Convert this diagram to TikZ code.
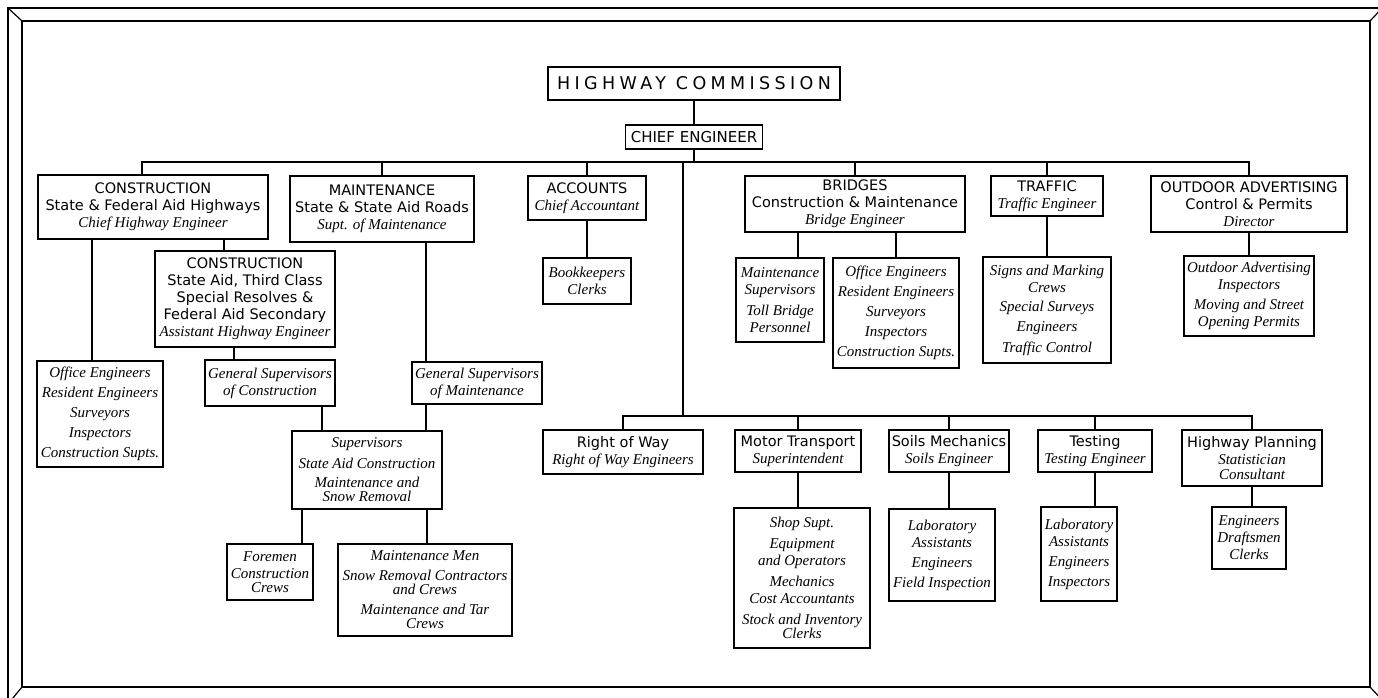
\documentclass[tikz,border=0pt]{standalone}
\usepackage{fontspec}
\setsansfont{DejaVu Sans}
\newfontfamily\wideface[LetterSpace=25]{DejaVu Sans}
\newfontfamily\itface{Liberation Serif}
\newcommand{\hd}[1]{{\sffamily\upshape\fontsize{14.5}{17}\selectfont #1}}

\begin{document}
\begin{tikzpicture}[x=1pt, y=-1pt,
  box/.style = {draw, line width=1.8pt, inner sep=1pt, align=center, font=\itface\fontsize{15}{17}\selectfont\itshape},
  head/.style = {box, font=\sffamily\fontsize{15}{17}\selectfont},
  link/.style = {line width=1.8pt, line cap=rect}]
  \useasboundingbox (0,0) rectangle (1378,698);
  % frame
  \draw[line width=2.4pt] (8,8) rectangle (1386,704);
  \draw[line width=1.2pt] (22,21) rectangle (1370,687);
  \draw[line width=1.2pt] (8,8) -- (22,21) (1386,4) -- (1370,21) (8,704) -- (22,687) (1386,704) -- (1370,687);

  % top
  \node[head, minimum width=292pt, minimum height=33pt, font=\wideface\fontsize{17.5}{20}\selectfont] (hc) at (694,83.5) {HIGHWAY COMMISSION};
  \node[head, minimum width=137pt, minimum height=24pt] (ce) at (694,137) {CHIEF ENGINEER};

  % first row
  \node[box, minimum width=230pt, minimum height=64pt] (con) at (153,207) {\hd{CONSTRUCTION}\\ \hd{State \& Federal Aid Highways}\\ Chief Highway Engineer};
  \node[box, minimum width=184pt, minimum height=66pt] (mnt) at (382,209) {\hd{MAINTENANCE}\\ \hd{State \& State Aid Roads}\\ Supt. of Maintenance};
  \node[box, minimum width=118pt, minimum height=44pt] (acc) at (587,198) {\hd{ACCOUNTS}\\ Chief Accountant};
  \node[box, minimum width=220pt, minimum height=56pt] (brg) at (855,204) {\hd{BRIDGES}\\ \hd{Construction \& Maintenance}\\ Bridge Engineer};
  \node[box, minimum width=112pt, minimum height=40pt] (trf) at (1047,196) {\hd{TRAFFIC}\\ Traffic Engineer};
  \node[box, minimum width=196pt, minimum height=56pt] (oad) at (1249,204) {\hd{OUTDOOR ADVERTISING}\\ \hd{Control \& Permits}\\ Director};

  % construction and maintenance branches
  \node[box, minimum width=180pt, minimum height=96pt] (con2) at (245,299) {\hd{CONSTRUCTION}\\ \hd{State Aid, Third Class}\\ \hd{Special Resolves \&}\\ \hd{Federal Aid Secondary}\\ Assistant Highway Engineer};
  \node[box, minimum width=126pt, minimum height=106pt] (offl) at (100,414) {Office Engineers\\[3pt] Resident Engineers\\[3pt] Surveyors\\[3pt] Inspectors\\[3pt] Construction Supts.};
  \node[box, minimum width=130pt, minimum height=46pt] (gsc) at (270,383) {General Supervisors\\ of Construction};
  \node[box, minimum width=130pt, minimum height=42pt] (gsm) at (477,383) {General Supervisors\\ of Maintenance};
  \node[box, minimum width=150pt, minimum height=78pt] (sup) at (367,470) {Supervisors\\[4pt] State Aid Construction\\[2pt] Maintenance and\\[-3pt] Snow Removal};
  \node[box, minimum width=86pt, minimum height=56pt] (frm) at (270,572) {Foremen\\ Construction\\[-3pt] Crews};
  \node[box, minimum width=174pt, minimum height=92pt] (mmen) at (425,590) {Maintenance Men\\[3pt] Snow Removal Contractors\\[-3pt] and Crews\\[3pt] Maintenance and Tar\\[-3pt] Crews};

  % accounts, bridges, traffic, advertising
  \node[box, minimum width=88pt, minimum height=46pt] (bkp) at (587,281) {Bookkeepers\\ Clerks};
  \node[box, minimum width=88pt, minimum height=84pt] (bms) at (780,300) {Maintenance\\ Supervisors\\[4pt] Toll Bridge\\ Personnel};
  \node[box, minimum width=126pt, minimum height=110pt] (bof) at (896,313) {Office Engineers\\[3pt] Resident Engineers\\[3pt] Surveyors\\[3pt] Inspectors\\[3pt] Construction Supts.};
  \node[box, minimum width=128pt, minimum height=106pt] (tch) at (1047,310) {Signs and Marking\\ Crews\\[2pt] Special Surveys\\[3pt] Engineers\\[4pt] Traffic Control};
  \node[box, minimum width=130pt, minimum height=80pt] (och) at (1249,296) {Outdoor Advertising\\ Inspectors\\[3pt] Moving and Street\\ Opening Permits};

  % second row
  \node[box, minimum width=160pt, minimum height=44pt] (row) at (623,452) {\hd{Right of Way}\\ Right of Way Engineers};
  \node[box, minimum width=126pt, minimum height=42pt] (mtr) at (798,451) {\hd{Motor Transport}\\ Superintendent};
  \node[box, minimum width=120pt, minimum height=42pt] (soil) at (949,451) {\hd{Soils Mechanics}\\ Soils Engineer};
  \node[box, minimum width=114pt, minimum height=42pt] (tst) at (1095,451) {\hd{Testing}\\ Testing Engineer};
  \node[box, minimum width=140pt, minimum height=56pt] (hwp) at (1252,458) {\hd{Highway Planning}\\ Statistician\\[-2pt] Consultant};
  \node[box, minimum width=136pt, minimum height=140pt] (mtc) at (802,578) {Shop Supt.\\[4pt] Equipment\\ and Operators\\[4pt] Mechanics\\ Cost Accountants\\[4pt] Stock and Inventory\\[-3pt] Clerks};
  \node[box, minimum width=106pt, minimum height=92pt] (slc) at (942,555) {Laboratory\\ Assistants\\[3pt] Engineers\\[3pt] Field Inspection};
  \node[box, minimum width=76pt, minimum height=94pt] (tsc) at (1079,554) {Laboratory\\ Assistants\\[3pt] Engineers\\[3pt] Inspectors};
  \node[box, minimum width=74pt, minimum height=62pt] (hpc) at (1249,538) {Engineers\\ Draftsmen\\ Clerks};

  % buses
  \coordinate (busL) at (142,162);
  \coordinate (busR) at (1249,162);
  \coordinate (spine) at (683,162);
  \coordinate (lowL) at (623,416);
  \coordinate (lowR) at (1252,416);

  \draw[link] (hc) -- (ce);
  \draw[link] (ce) -- (ce |- busL);
  \draw[link] (busL) -- (busR);
  \draw[link] (busL) -- (busL |- con.north);
  \draw[link] (mnt) -- (mnt |- busL);
  \draw[link] (acc) -- (acc |- busL);
  \draw[link] (brg) -- (brg |- busL);
  \draw[link] (trf) -- (trf |- busL);
  \draw[link] (busR) -- (busR |- oad.north);
  \draw[link] (spine) -- (spine |- lowL);
  \draw[link] (lowL) -- (lowR);
  \draw[link] (lowL) -- (lowL |- row.north);
  \draw[link] (mtr) -- (mtr |- lowL);
  \draw[link] (soil) -- (soil |- lowL);
  \draw[link] (tst) -- (tst |- lowL);
  \draw[link] (lowR) -- (lowR |- hwp.north);

  % children
  \draw[link] (con.south -| 92,0) -- (offl.north -| 92,0);
  \draw[link] (con.south -| 224,0) -- (con2.north -| 224,0);
  \draw[link] (con2.south -| 234,0) -- (gsc.north -| 234,0);
  \draw[link] (mnt.south -| 426,0) -- (gsm.north -| 426,0);
  \draw[link] (gsc.south -| 322,0) -- (sup.north -| 322,0);
  \draw[link] (gsm.south -| 426,0) -- (sup.north -| 426,0);
  \draw[link] (sup.south -| 302,0) -- (frm.north -| 302,0);
  \draw[link] (sup.south -| 427,0) -- (mmen.north -| 427,0);
  \draw[link] (acc.south) -- (acc.south |- bkp.north);
  \draw[link] (brg.south -| 798,0) -- (bms.north -| 798,0);
  \draw[link] (brg.south -| 896,0) -- (bof.north -| 896,0);
  \draw[link] (trf.south) -- (trf.south |- tch.north);
  \draw[link] (oad.south) -- (oad.south |- och.north);
  \draw[link] (mtr.south) -- (mtr.south |- mtc.north);
  \draw[link] (soil.south) -- (soil.south |- slc.north);
  \draw[link] (tst.south) -- (tst.south |- tsc.north);
  \draw[link] (hwp.south) -- (hwp.south |- hpc.north);
\end{tikzpicture}
\end{document}
